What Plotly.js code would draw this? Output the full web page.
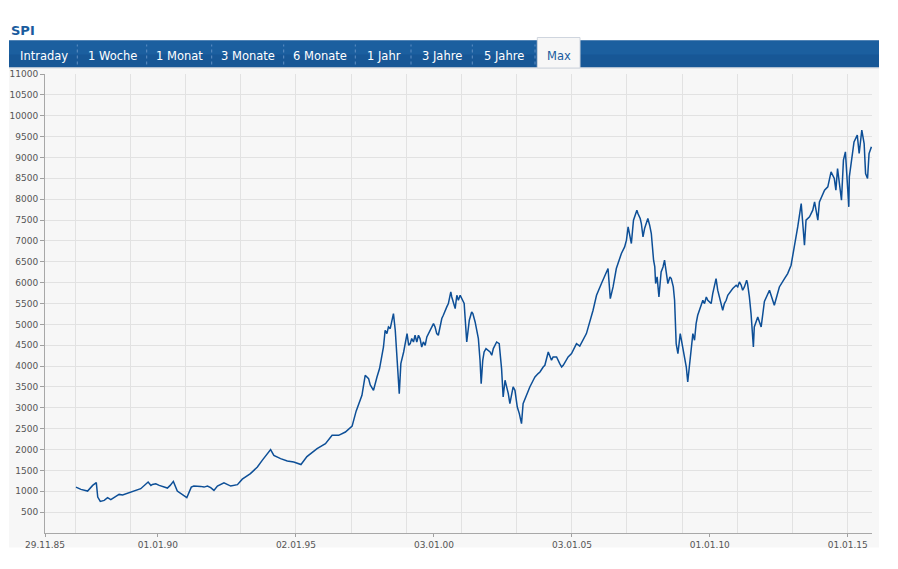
<!DOCTYPE html>
<html>
<head>
<meta charset="utf-8">
<script src="https://cdn.plot.ly/plotly-3.0.1.min.js"></script>
<style>
html,body{margin:0;padding:0;background:#fff;}
#chart{width:898px;height:569px;}
</style>
</head>
<body>
<div id="chart"></div>
<script>
// ---- data ----
const chartTitle = "SPI";
const tabLabels = ["Intraday","1 Woche","1 Monat","3 Monate","6 Monate","1 Jahr","3 Jahre","5 Jahre","Max"];
const dates = [
"1987-01-13","1987-03-19","1987-06-16","1987-08-22","1987-10-09","1987-10-19","1987-10-28","1987-12-01",
"1988-01-22","1988-03-06","1988-04-18","1988-06-24","1988-08-06","1988-09-21",
"1989-01-10","1989-05-19","1989-08-25","1989-10-01","1989-10-21","1989-12-04",
"1990-01-19","1990-02-10","1990-05-07","1990-06-13","1990-07-25","1990-09-15","1990-11-21",
"1991-01-19","1991-03-19","1991-04-22","1991-07-22","1991-09-04","1991-10-19","1991-12-01",
"1992-01-13","1992-02-28","1992-05-25","1992-08-22","1992-11-19",
"1993-01-22","1993-05-10","1993-08-10","1993-10-13","1993-12-19",
"1994-02-01","1994-03-16","1994-06-13","1994-09-10","1994-12-04",
"1995-03-10","1995-05-28","1995-10-09",
"1996-01-28","1996-04-25","1996-07-21","1996-10-18",
"1997-01-15","1997-03-09","1997-05-25","1997-07-07","1997-08-21","1997-09-12","1997-10-25","1997-12-10",
"1998-01-13","1998-03-06","1998-03-28","1998-04-20","1998-05-11","1998-06-03","1998-06-29","1998-07-16","1998-08-09","1998-09-01","1998-10-01","1998-10-22","1998-11-28",
"1999-01-12","1999-02-03","1999-02-23","1999-03-15","1999-04-07","1999-04-28","1999-05-21","1999-06-12","1999-07-03","1999-07-25","1999-08-16","1999-09-09","1999-10-01","1999-11-13","1999-12-06","1999-12-28",
"2000-01-18","2000-02-09","2000-03-01","2000-03-24","2000-04-16","2000-05-06","2000-05-28","2000-06-21","2000-07-12","2000-08-13","2000-08-26","2000-09-16","2000-10-10","2000-11-01","2000-11-21","2000-12-15",
"2001-01-07","2001-02-06","2001-03-12","2001-04-15","2001-05-16","2001-06-01","2001-07-01","2001-07-22","2001-08-13","2001-09-04","2001-09-19","2001-10-10","2001-10-28","2001-11-22","2001-12-22",
"2002-01-15","2002-02-06","2002-02-27","2002-04-12","2002-05-16","2002-06-16","2002-07-07","2002-08-01","2002-08-22","2002-09-13","2002-10-04","2002-10-28","2002-11-16","2002-12-10",
"2003-01-01","2003-01-10","2003-02-06","2003-03-07","2003-03-28","2003-05-13","2003-06-03","2003-06-25","2003-08-09","2003-09-01","2003-10-13","2003-11-06","2003-12-19",
"2004-01-10","2004-02-24","2004-03-16","2004-04-07","2004-04-28","2004-06-13","2004-07-25","2004-08-19","2004-09-09","2004-10-22","2004-11-13","2004-12-28",
"2005-02-10","2005-03-04","2005-04-16","2005-07-13","2005-10-09","2005-11-24",
"2006-01-28","2006-04-25","2006-05-25","2006-07-01","2006-08-13","2006-10-19","2006-12-01","2006-12-25",
"2007-01-16","2007-02-28","2007-03-28","2007-05-12","2007-05-26","2007-06-25","2007-07-10","2007-08-01","2007-08-22","2007-09-14","2007-10-04","2007-10-28","2007-11-19","2007-12-19",
"2008-01-04","2008-01-15","2008-02-04","2008-02-16","2008-02-28","2008-03-28","2008-04-22","2008-05-12","2008-05-28","2008-06-16","2008-06-25","2008-07-22","2008-08-09","2008-09-05","2008-09-22","2008-10-13","2008-11-05","2008-12-06",
"2009-01-10","2009-02-24","2009-03-15","2009-04-28","2009-05-22","2009-06-13","2009-07-04","2009-07-25","2009-08-18","2009-10-01","2009-10-23","2009-11-16","2009-12-06",
"2010-01-19","2010-02-09","2010-03-03","2010-03-25","2010-04-16","2010-05-09","2010-06-01","2010-06-21","2010-07-13","2010-08-06","2010-08-27","2010-10-10","2010-11-01","2010-12-16",
"2011-01-06","2011-01-28","2011-02-21","2011-03-12","2011-04-04","2011-05-04","2011-05-16","2011-06-09","2011-07-01","2011-08-01","2011-08-13","2011-09-28","2011-11-12","2011-12-25",
"2012-03-01","2012-05-04","2012-07-10","2012-09-16","2012-10-28","2012-12-12",
"2013-01-25","2013-03-10","2013-04-25","2013-06-07","2013-06-28","2013-08-13","2013-09-25","2013-10-19","2013-12-01","2013-12-22",
"2014-02-28","2014-04-12","2014-05-25","2014-07-07","2014-07-28","2014-08-19","2014-10-10","2014-11-05","2014-12-01",
"2015-01-15","2015-01-22","2015-03-04","2015-03-25","2015-05-07","2015-06-01","2015-07-06","2015-08-06","2015-08-25","2015-09-20","2015-10-10","2015-11-10"
];
const values = [
1100,1045,1005,1141,1206,1000,861,758,
782,846,798,877,925,910,
981,1062,1221,1141,1165,1180,
1141,1125,1077,1141,1237,1005,925,
846,1100,1125,1117,1100,1125,1086,
1021,1125,1200,1125,1158,
1290,1422,1581,1741,1902,
1998,1861,1782,1724,1700,
1640,1830,2021,
2141,2340,2340,2420,
2560,2920,3300,3779,3700,3550,3420,3738,
3940,4458,4859,4779,4938,4899,5098,5259,4859,4300,3340,4060,4338,
4779,4499,4539,4659,4578,4739,4578,4739,4659,4458,4578,4499,4698,4859,4978,5019,
4938,4779,4739,4938,5139,5218,5339,5418,5499,5777,5657,5499,5379,5698,5578,5698,
5618,5499,4578,5098,5298,5259,5058,4859,4659,4139,3580,4139,4338,4419,4379,
4338,4259,4419,4578,4539,3940,3260,3660,3500,3340,3099,3340,3500,3420,
3180,3019,2861,2621,3099,3300,3420,3500,3660,3738,3820,3858,3978,
4019,4338,4259,4139,4218,4218,4059,3978,4019,4139,4218,4298,
4458,4539,4480,4779,5339,5698,
5978,6338,5618,5897,6338,6698,6856,7017,
7336,6937,7497,7736,7656,7537,7417,7096,7297,7417,7537,7377,7177,6537,
6377,5978,6137,5897,5657,6256,6377,6537,6297,6057,5978,6137,6098,5897,5578,4539,4298,4779,
4458,3978,3619,4298,4779,4619,5019,5218,5339,5578,5499,5657,5578,
5499,5738,5938,6098,5818,5657,5499,5339,5499,5578,5698,5818,5858,5938,
5897,6017,5938,5818,5897,6057,5978,5657,5259,4458,4938,5178,4938,5550,
5818,5458,5897,6098,6218,6417,
6856,7336,7896,6896,7497,7577,7736,7936,7497,7936,
8216,8296,8655,8495,8216,8735,7976,8935,9134,
7816,8535,9014,9374,9534,9094,9654,9334,8615,8495,9094,9254
];
const xTickVals = ["1985-11-29","1990-01-01","1995-01-02","2000-01-03","2005-01-03","2010-01-01","2015-01-01"];
const xTickText = ["29.11.85","01.01.90","02.01.95","03.01.00","03.01.05","01.01.10","01.01.15"];
const yTickVals = [500,1000,1500,2000,2500,3000,3500,4000,4500,5000,5500,6000,6500,7000,7500,8000,8500,9000,9500,10000,10500,11000];
const xRange = ["1985-11-29","2015-11-18"];
const yRange = [0, 11000];

// ---- geometry helpers (pixel -> paper) ----
const W = 898, H = 569;
const L = 45, R = 872, T = 73.5, B = 532.6;
const fx = p => (p - L) / (R - L);
const fy = p => (B - p) / (B - T);
const FONT = "Verdana, DejaVu Sans, sans-serif";
const BLUE = "#1a5c9e";

const shapes = [];
const annotations = [];
shapes.push({type:"rect", xref:"paper", yref:"paper", layer:"below",
  x0:fx(9), x1:fx(879), y0:fy(547), y1:fy(67), fillcolor:"#f7f7f7", line:{width:0}});
shapes.push({type:"rect", xref:"paper", yref:"paper", layer:"above",
  x0:fx(9), x1:fx(879), y0:fy(67), y1:fy(40), fillcolor:"#175796", line:{width:0}});
shapes.push({type:"rect", xref:"paper", yref:"paper", layer:"above",
  x0:fx(9), x1:fx(879), y0:fy(54), y1:fy(40), fillcolor:"#1b5f9f", line:{width:0}});
shapes.push({type:"line", xref:"paper", yref:"paper", layer:"above",
  x0:fx(9), x1:fx(879), y0:fy(67.5), y1:fy(67.5), line:{color:"#d6d9de", width:1}});
const sepX = [77.3,146.7,211.7,283.7,355.3,411,472.3,535];
sepX.forEach(s => shapes.push({type:"line", xref:"paper", yref:"paper", layer:"above",
  x0:fx(s), x1:fx(s), y0:fy(64), y1:fy(44), line:{color:"#5f8fc4", width:1, dash:"dot"}}));
shapes.push({type:"rect", xref:"paper", yref:"paper", layer:"above",
  x0:fx(537.3), x1:fx(580), y0:fy(67.5), y1:fy(37), fillcolor:"#f7f7f7", line:{color:"#cfd5de", width:1}});
const tabCenters = [43.5,112.5,179.5,248.3,320,383.8,442,504,558.7];
tabLabels.forEach((t,i) => annotations.push({xref:"paper", yref:"paper", x:fx(tabCenters[i]), y:fy(55),
  xanchor:"center", yanchor:"middle", showarrow:false, text:t,
  font:{family:FONT, size:11.5, color: i === tabLabels.length-1 ? BLUE : "#ffffff"}}));
annotations.push({xref:"paper", yref:"paper", x:fx(9), y:fy(30), xanchor:"left", yanchor:"middle",
  showarrow:false, text:"<b>"+chartTitle+"</b>", font:{family:FONT, size:13, color:BLUE}});

const trace = {x:dates, y:values, type:"scatter", mode:"lines",
  line:{color:"#0d4f97", width:1.5}, hoverinfo:"x+y"};

const layout = {
  width:W, height:H,
  margin:{l:L, r:W-R, t:T, b:H-B, pad:0},
  paper_bgcolor:"#ffffff", plot_bgcolor:"#f7f7f7",
  showlegend:false,
  font:{family:FONT, size:9, color:"#555555"},
  xaxis:{type:"date", range:xRange, tickmode:"array", tickvals:xTickVals, ticktext:xTickText,
    showgrid:false, zeroline:false, showline:true, linecolor:"#a8a8a8", linewidth:1,
    ticks:"outside", ticklen:3, tickcolor:"#a0a0a0", tickfont:{family:FONT, size:9, color:"#555555"},
    minor:{dtick:"M24", tick0:"1987-01-01", showgrid:true, gridcolor:"#e2e2e2", gridwidth:1, ticks:""},
    fixedrange:true},
  yaxis:{range:yRange, tickmode:"array", tickvals:yTickVals, tickformat:"d", showgrid:true, gridcolor:"#e2e2e2", gridwidth:1,
    zeroline:false, showline:true, linecolor:"#a8a8a8", linewidth:1,
    ticks:"outside", ticklen:4, tickcolor:"#a0a0a0", tickfont:{family:FONT, size:9, color:"#555555"},
    fixedrange:true},
  shapes:shapes, annotations:annotations
};
Plotly.newPlot("chart", [trace], layout, {displayModeBar:false, responsive:false});
</script>
</body>
</html>
